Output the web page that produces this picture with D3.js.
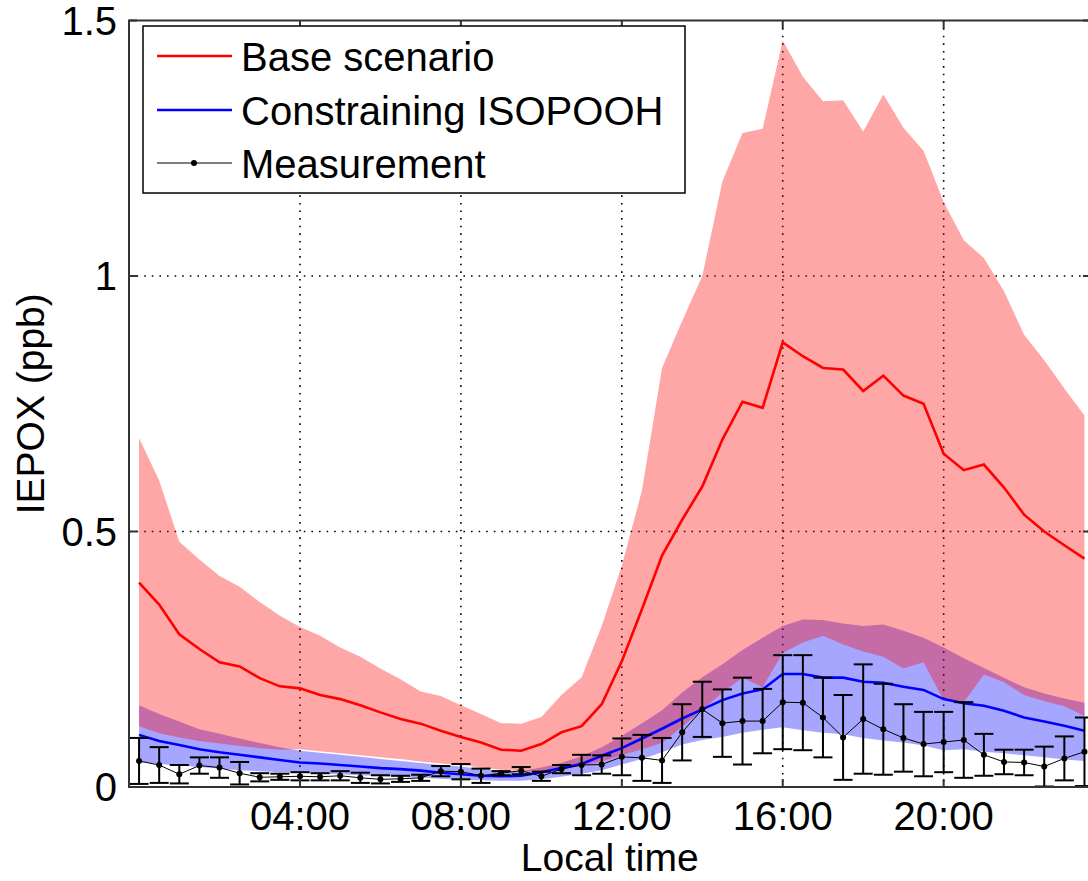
<!DOCTYPE html>
<html>
<head>
<meta charset="utf-8">
<script src="https://cdn.jsdelivr.net/npm/d3@7.9.0/dist/d3.min.js"></script>
<style>
  html, body { margin: 0; padding: 0; background: #fff; }
  svg { display: block; }
  text { font-family: "Liberation Sans", Arial, sans-serif; fill: #000; }
</style>
</head>
<body>
<svg id="chart"></svg>
<script>
// half-hourly bins, 00:00 .. 23:30
const hours = d3.range(0, 24, 0.5);

// base scenario (red): mean and spread
const baseMean = [0.400, 0.357, 0.299, 0.270, 0.244, 0.236, 0.213, 0.197, 0.193, 0.180, 0.172, 0.160,
  0.146, 0.133, 0.124, 0.110, 0.098, 0.087, 0.073, 0.071, 0.084, 0.107, 0.119, 0.162,
  0.246, 0.348, 0.453, 0.523, 0.588, 0.680, 0.754, 0.742, 0.870, 0.843, 0.820, 0.817,
  0.775, 0.805, 0.766, 0.750, 0.652, 0.620, 0.631, 0.586, 0.533, 0.500, 0.473, 0.447];
const baseHigh = [0.683, 0.600, 0.480, 0.445, 0.413, 0.392, 0.362, 0.335, 0.313, 0.296, 0.273, 0.255,
  0.232, 0.211, 0.187, 0.178, 0.160, 0.143, 0.125, 0.124, 0.137, 0.180, 0.215, 0.315,
  0.433, 0.580, 0.820, 0.912, 1.000, 1.185, 1.280, 1.288, 1.461, 1.390, 1.342, 1.344,
  1.283, 1.355, 1.290, 1.245, 1.145, 1.070, 1.035, 0.970, 0.885, 0.835, 0.780, 0.727];
const baseLow = [0.119, 0.105, 0.097, 0.090, 0.085, 0.080, 0.076, 0.073, 0.074, 0.070, 0.066, 0.062,
  0.058, 0.055, 0.050, 0.046, 0.043, 0.038, 0.034, 0.031, 0.031, 0.036, 0.042, 0.050,
  0.062, 0.074, 0.086, 0.118, 0.150, 0.185, 0.214, 0.195, 0.262, 0.283, 0.296, 0.279,
  0.265, 0.255, 0.232, 0.244, 0.170, 0.166, 0.220, 0.205, 0.180, 0.168, 0.158, 0.139];

// constraining ISOPOOH (blue): mean and spread
const isoMean = [0.102, 0.090, 0.082, 0.074, 0.068, 0.063, 0.058, 0.053, 0.048, 0.046, 0.043, 0.040,
  0.037, 0.035, 0.032, 0.028, 0.025, 0.022, 0.021, 0.022, 0.029, 0.037, 0.045, 0.061,
  0.076, 0.095, 0.114, 0.134, 0.152, 0.170, 0.183, 0.191, 0.221, 0.221, 0.214, 0.214,
  0.206, 0.204, 0.196, 0.190, 0.172, 0.164, 0.159, 0.149, 0.136, 0.128, 0.120, 0.110];
const isoHigh = [0.160, 0.143, 0.128, 0.113, 0.104, 0.095, 0.086, 0.078, 0.071, 0.067, 0.063, 0.059,
  0.055, 0.051, 0.047, 0.043, 0.040, 0.035, 0.032, 0.031, 0.038, 0.047, 0.060, 0.078,
  0.100, 0.125, 0.150, 0.185, 0.215, 0.240, 0.268, 0.292, 0.315, 0.328, 0.327, 0.320,
  0.315, 0.318, 0.306, 0.292, 0.273, 0.252, 0.233, 0.214, 0.195, 0.183, 0.173, 0.165];
const isoLow = [0.049, 0.045, 0.042, 0.039, 0.036, 0.033, 0.031, 0.029, 0.028, 0.026, 0.025, 0.023,
  0.021, 0.020, 0.018, 0.016, 0.014, 0.013, 0.012, 0.012, 0.015, 0.020, 0.026, 0.033,
  0.044, 0.055, 0.068, 0.083, 0.092, 0.098, 0.106, 0.112, 0.117, 0.111, 0.106, 0.103,
  0.096, 0.091, 0.087, 0.081, 0.072, 0.074, 0.069, 0.066, 0.062, 0.058, 0.054, 0.051];

// measurement: mean and +/- error
const measMean = [0.051, 0.043, 0.025, 0.042, 0.038, 0.027, 0.019, 0.020, 0.021, 0.020, 0.022, 0.018,
  0.015, 0.016, 0.018, 0.031, 0.030, 0.022, 0.027, 0.032, 0.021, 0.035, 0.043, 0.044,
  0.059, 0.057, 0.052, 0.107, 0.152, 0.125, 0.129, 0.129, 0.166, 0.165, 0.136, 0.097,
  0.133, 0.113, 0.096, 0.084, 0.088, 0.092, 0.063, 0.049, 0.048, 0.040, 0.056, 0.069];
const measErr = [0.045, 0.035, 0.018, 0.016, 0.020, 0.022, 0.008, 0.006, 0.008, 0.007, 0.009, 0.010,
  0.008, 0.006, 0.006, 0.010, 0.015, 0.014, 0.004, 0.007, 0.009, 0.008, 0.020, 0.018,
  0.036, 0.045, 0.044, 0.055, 0.054, 0.066, 0.085, 0.063, 0.092, 0.093, 0.078, 0.083,
  0.107, 0.089, 0.066, 0.063, 0.059, 0.074, 0.041, 0.024, 0.025, 0.039, 0.043, 0.067];

const xTicks = [4, 8, 12, 16, 20];
const xTickLabels = ['04:00', '08:00', '12:00', '16:00', '20:00'];
const yTicks = [0, 0.5, 1, 1.5];
const yTickLabels = ['0', '0.5', '1', '1.5'];
const legendLabels = ['Base scenario', 'Constraining ISOPOOH', 'Measurement'];

const width = 1088;
const height = 881;
const plot = { left: 129, right: 1091, top: 20.5, bottom: 787 };

const svg = d3.select('#chart')
  .attr('width', width)
  .attr('height', height);

const x = d3.scaleLinear()
  .domain([-0.25, 23.7])
  .range([plot.left, plot.left + 23.95 * 40.23]);

const y = d3.scaleLinear()
  .domain([0, 1.5])
  .range([plot.bottom, plot.top]);

svg.append('defs').append('clipPath')
  .attr('id', 'plot-clip')
  .append('rect')
  .attr('x', plot.left)
  .attr('y', plot.top)
  .attr('width', plot.right - plot.left)
  .attr('height', plot.bottom - plot.top);

// dotted grid
const grid = svg.append('g');
grid.selectAll('line.gx')
  .data(xTicks)
  .join('line')
  .attr('x1', d => x(d)).attr('x2', d => x(d))
  .attr('y1', plot.top).attr('y2', plot.bottom)
  .attr('stroke', '#000')
  .attr('stroke-width', 1.6)
  .attr('stroke-dasharray', '1.6 6');
grid.selectAll('line.gy')
  .data(yTicks.slice(1, 3))
  .join('line')
  .attr('x1', plot.left).attr('x2', plot.right)
  .attr('y1', d => y(d)).attr('y2', d => y(d))
  .attr('stroke', '#000')
  .attr('stroke-width', 1.6)
  .attr('stroke-dasharray', '1.6 6');

const g = svg.append('g').attr('clip-path', 'url(#plot-clip)');

const band = (lo, hi) => d3.area()
  .x((d, i) => x(hours[i]))
  .y0((d, i) => y(lo[i]))
  .y1((d, i) => y(hi[i]));

const line = vals => d3.line()
  .x((d, i) => x(hours[i]))
  .y((d, i) => y(vals[i]));

// blue band first, red band over it gives the purple overlap
g.append('path')
  .attr('d', band(isoLow, isoHigh)(hours))
  .attr('fill', '#0000ff')
  .attr('fill-opacity', 0.35);

g.append('path')
  .attr('d', band(baseLow, baseHigh)(hours))
  .attr('fill', '#ff0000')
  .attr('fill-opacity', 0.35);

g.append('path')
  .attr('d', line(baseMean)(hours))
  .attr('fill', 'none')
  .attr('stroke', '#ff0000')
  .attr('stroke-width', 2.6);

g.append('path')
  .attr('d', line(isoMean)(hours))
  .attr('fill', 'none')
  .attr('stroke', '#0000ff')
  .attr('stroke-width', 2.6);

// measurement with error bars
g.append('path')
  .attr('d', line(measMean)(hours))
  .attr('fill', 'none')
  .attr('stroke', '#000')
  .attr('stroke-width', 1);

const bars = g.append('g')
  .selectAll('g')
  .data(hours)
  .join('g');

bars.append('line')
  .attr('x1', d => x(d)).attr('x2', d => x(d))
  .attr('y1', (d, i) => y(measMean[i] + measErr[i]))
  .attr('y2', (d, i) => y(measMean[i] - measErr[i]))
  .attr('stroke', '#000')
  .attr('stroke-width', 2);

bars.append('line')
  .attr('x1', d => x(d) - 9.5).attr('x2', d => x(d) + 9.5)
  .attr('y1', (d, i) => y(measMean[i] + measErr[i]))
  .attr('y2', (d, i) => y(measMean[i] + measErr[i]))
  .attr('stroke', '#000')
  .attr('stroke-width', 2);

bars.append('line')
  .attr('x1', d => x(d) - 9.5).attr('x2', d => x(d) + 9.5)
  .attr('y1', (d, i) => y(measMean[i] - measErr[i]))
  .attr('y2', (d, i) => y(measMean[i] - measErr[i]))
  .attr('stroke', '#000')
  .attr('stroke-width', 2);

bars.append('circle')
  .attr('cx', d => x(d))
  .attr('cy', (d, i) => y(measMean[i]))
  .attr('r', 3)
  .attr('fill', '#000');

// axes box with inward ticks
const axisColor = '#333';
svg.append('rect')
  .attr('x', plot.left).attr('y', plot.top)
  .attr('width', plot.right - plot.left)
  .attr('height', plot.bottom - plot.top)
  .attr('fill', 'none')
  .attr('stroke', axisColor)
  .attr('stroke-width', 2);

const ticks = svg.append('g').attr('stroke', axisColor).attr('stroke-width', 2);
xTicks.forEach(t => {
  ticks.append('line').attr('x1', x(t)).attr('x2', x(t)).attr('y1', plot.bottom).attr('y2', plot.bottom - 8);
  ticks.append('line').attr('x1', x(t)).attr('x2', x(t)).attr('y1', plot.top).attr('y2', plot.top + 8);
});
yTicks.forEach(t => {
  ticks.append('line').attr('x1', plot.left).attr('x2', plot.left + 8).attr('y1', y(t)).attr('y2', y(t));
  ticks.append('line').attr('x1', plot.right).attr('x2', plot.right - 8).attr('y1', y(t)).attr('y2', y(t));
});

svg.append('g')
  .selectAll('text')
  .data(xTicks)
  .join('text')
  .attr('x', d => x(d))
  .attr('y', 830)
  .attr('text-anchor', 'middle')
  .attr('font-size', 40)
  .text((d, i) => xTickLabels[i]);

svg.append('g')
  .selectAll('text')
  .data(yTicks)
  .join('text')
  .attr('x', 117)
  .attr('y', d => y(d) + 14)
  .attr('text-anchor', 'end')
  .attr('font-size', 40)
  .text((d, i) => yTickLabels[i]);

svg.append('text')
  .attr('x', x(11.7))
  .attr('y', 871)
  .attr('text-anchor', 'middle')
  .attr('font-size', 39)
  .text('Local time');

svg.append('text')
  .attr('transform', `translate(44, ${y(0.75)}) rotate(-90)`)
  .attr('text-anchor', 'middle')
  .attr('font-size', 39)
  .text('IEPOX (ppb)');

// legend
const legend = svg.append('g');
legend.append('rect')
  .attr('x', 143).attr('y', 26)
  .attr('width', 542).attr('height', 167)
  .attr('fill', '#fff')
  .attr('stroke', '#000')
  .attr('stroke-width', 1.5);

const legendColors = ['#ff0000', '#0000ff', '#000'];
const rowY = [56, 110, 163];
legendLabels.forEach((label, i) => {
  legend.append('line')
    .attr('x1', 157).attr('x2', 232)
    .attr('y1', rowY[i]).attr('y2', rowY[i])
    .attr('stroke', legendColors[i])
    .attr('stroke-width', i === 2 ? 1.2 : 2.6);
  if (i === 2) {
    legend.append('circle').attr('cx', 194).attr('cy', rowY[i]).attr('r', 3).attr('fill', '#000');
  }
  legend.append('text')
    .attr('x', 241)
    .attr('y', rowY[i] + 15)
    .attr('font-size', 40)
    .text(label);
});
</script>
</body>
</html>
